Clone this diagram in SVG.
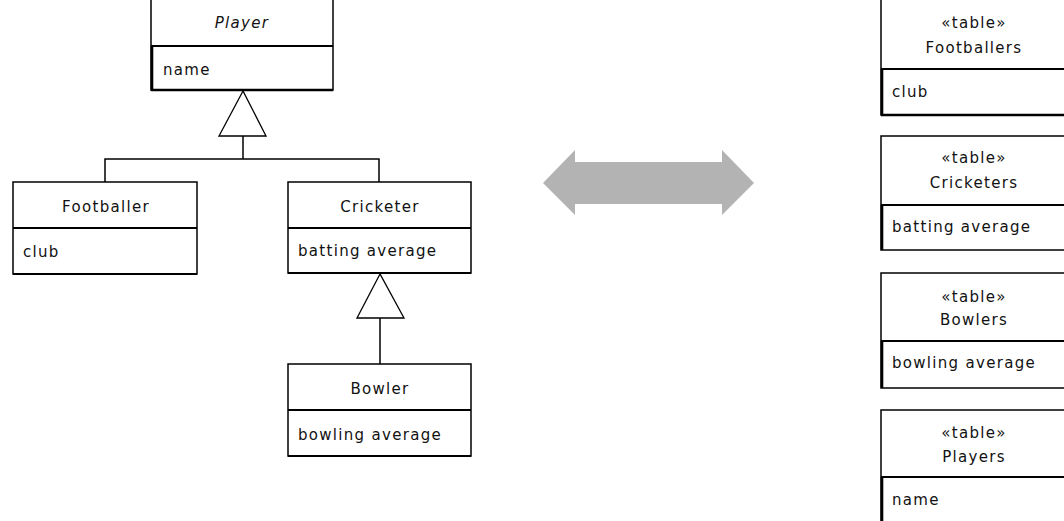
<svg xmlns="http://www.w3.org/2000/svg" width="1064" height="521" viewBox="0 0 1064 521">
<style>
.box{fill:#fff;stroke:#000;stroke-width:1.5}
.div{stroke:#000;stroke-width:2.2;fill:none}
.thick{stroke:#000;stroke-width:2.6;fill:none}
.ln{stroke:#000;stroke-width:1.5;fill:none}
.tri{fill:#fff;stroke:#000;stroke-width:1.3}
text{font-family:"DejaVu Sans","Liberation Sans",sans-serif;font-size:15px;letter-spacing:1.3px;fill:#111}
.c{text-anchor:middle}
.i{font-style:italic}
</style>
<rect width="1064" height="521" fill="#fff"/>
<g id="connectors">
<line class="ln" x1="243" y1="136" x2="243" y2="159"/>
<polyline class="ln" points="105,182 105,159 379,159 379,182"/>
<polygon class="tri" points="243,91 219,136 266,136"/>
<line class="ln" x1="380" y1="318" x2="380" y2="364"/>
<polygon class="tri" points="380,274 357,318 404,318"/>
<polygon fill="#b3b3b3" points="543,183 575,150 575,162 722,162 722,150 754,183 722,215 722,204 575,204 575,215"/>
</g>
<g id="player">
<rect class="box" x="151" y="-5" width="182" height="95"/>
<line class="div" x1="151" y1="46" x2="333" y2="46"/>
<line class="thick" x1="152" y1="46" x2="152" y2="90"/>
<line class="thick" x1="151" y1="90" x2="333" y2="90"/>
<text class="c i" x="242" y="28">Player</text>
<text x="163" y="75">name</text>
</g>
<g id="footballer">
<rect class="box" x="13" y="182" width="184" height="92"/>
<line class="div" x1="13" y1="228" x2="197" y2="228"/>
<line class="div" x1="13" y1="274" x2="197" y2="274"/>
<text class="c" x="106" y="212">Footballer</text>
<text x="23" y="257">club</text>
</g>
<g id="cricketer">
<rect class="box" x="288" y="182" width="183" height="91"/>
<line class="div" x1="288" y1="228" x2="471" y2="228"/>
<line class="div" x1="288" y1="273" x2="471" y2="273"/>
<text class="c" x="380" y="212">Cricketer</text>
<text x="298" y="256">batting average</text>
</g>
<g id="bowler">
<rect class="box" x="288" y="364" width="183" height="92"/>
<line class="div" x1="288" y1="410" x2="471" y2="410"/>
<line class="div" x1="288" y1="456" x2="471" y2="456"/>
<text class="c" x="380" y="394">Bowler</text>
<text x="298" y="440">bowling average</text>
</g>
<g id="footballers-table">
<rect class="box" x="881" y="-5" width="190" height="120"/>
<line class="div" x1="881" y1="69" x2="1064" y2="69"/>
<line class="thick" x1="882" y1="69" x2="882" y2="115"/>
<line class="thick" x1="881" y1="115" x2="1064" y2="115"/>
<text class="c" x="974" y="28">«table»</text>
<text class="c" x="974" y="53">Footballers</text>
<text x="892" y="97">club</text>
</g>
<g id="cricketers-table">
<rect class="box" x="881" y="136" width="190" height="114"/>
<line class="div" x1="881" y1="205" x2="1064" y2="205"/>
<line class="thick" x1="882" y1="205" x2="882" y2="250"/>
<text class="c" x="974" y="163">«table»</text>
<text class="c" x="974" y="188">Cricketers</text>
<text x="892" y="232">batting average</text>
</g>
<g id="bowlers-table">
<rect class="box" x="881" y="273" width="190" height="115"/>
<line class="div" x1="881" y1="341" x2="1064" y2="341"/>
<line class="thick" x1="882" y1="341" x2="882" y2="388"/>
<text class="c" x="974" y="302">«table»</text>
<text class="c" x="974" y="325">Bowlers</text>
<text x="892" y="368">bowling average</text>
</g>
<g id="players-table">
<rect class="box" x="881" y="410" width="190" height="120"/>
<line class="div" x1="881" y1="477" x2="1064" y2="477"/>
<line class="thick" x1="882" y1="477" x2="882" y2="530"/>
<text class="c" x="974" y="438">«table»</text>
<text class="c" x="974" y="462">Players</text>
<text x="892" y="505">name</text>
</g>
</svg>
